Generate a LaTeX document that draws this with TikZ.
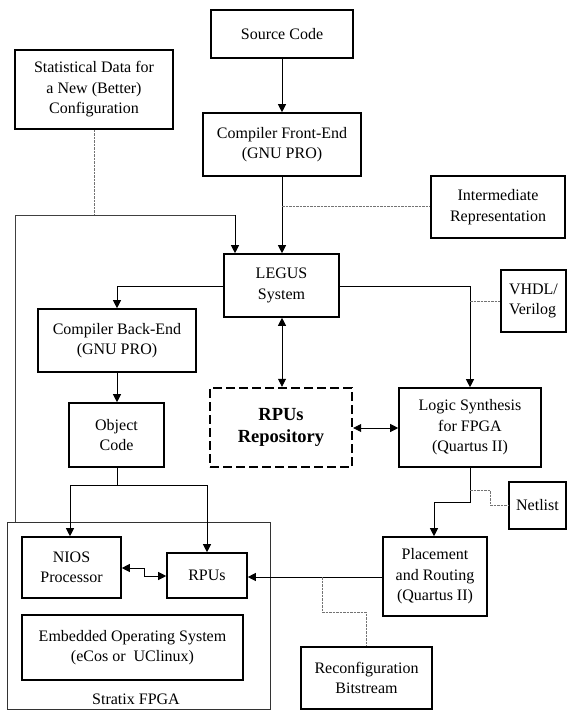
\documentclass[tikz,border=0pt]{standalone}
\usepackage{fontspec}
\setmainfont{Liberation Serif}
\usetikzlibrary{arrows.meta}
\begin{document}
\begin{tikzpicture}[x=1pt,y=-1pt,
  box/.style={draw=black,line width=1.6pt,fill=white,inner sep=0pt,align=center,
    font=\fontsize{16}{20.5}\selectfont},
  repobox/.style={draw=black,line width=2.4pt,dash pattern=on 9pt off 4pt,inner sep=0pt,align=center,
    font=\fontsize{18.5}{22.5}\selectfont\bfseries},
  arr/.style={line width=0.8pt,-{Triangle[width=8pt,length=8pt]}},
  darr/.style={line width=0.8pt,{Triangle[width=8pt,length=8pt]}-{Triangle[width=8pt,length=8pt]}},
  conn/.style={line width=0.8pt},
  thinline/.style={line width=0.7pt,draw=black!75},
  dotl/.style={line width=0.8pt,draw=black!55,dash pattern=on 2.5pt off 1pt},
]
\useasboundingbox[fill=white] (0,0) rectangle (569,711);

% Stratix container
\node[draw=black!80,line width=0.6pt,minimum width=263pt,minimum height=187pt,inner sep=0pt] (stratix) at (138.5,615.5) {};
\node[font=\fontsize{16}{18}\selectfont,inner sep=0pt] (stratixlbl) at (136,699) {Stratix FPGA};

\node[box,minimum width=142pt,minimum height=48pt] (src) at (282,34) {Source Code};
\node[box,minimum width=158pt,minimum height=79pt] (stat) at (94,89.5) {Statistical Data for\\a New (Better)\\Configuration};
\node[box,minimum width=158pt,minimum height=63pt] (front) at (282,144.5) {Compiler Front-End\\(GNU PRO)};
\node[box,minimum width=134pt,minimum height=62pt] (inter) at (498,207) {Intermediate\\Representation};
\node[box,minimum width=115pt,minimum height=63pt] (legus) at (281.5,285.5) {LEGUS\\System};
\node[box,minimum width=158pt,minimum height=63pt] (back) at (117,340.5) {Compiler Back-End\\(GNU PRO)};
\node[box,minimum width=65pt,minimum height=62pt,align=left] (vhdl) at (533.5,301) {VHDL/\\Verilog};
\node[box,minimum width=95pt,minimum height=64pt] (obj) at (116.5,435) {Object\\Code};
\node[repobox,minimum width=142pt,minimum height=79pt] (repo) at (281,427.5) {RPUs\\Repository};
\node[box,minimum width=142pt,minimum height=79pt] (logic) at (470,427.5) {Logic Synthesis\\for FPGA\\(Quartus II)};
\node[box,minimum width=57pt,minimum height=47pt] (netlist) at (537.5,505.5) {Netlist};
\node[box,minimum width=104pt,minimum height=79pt] (place) at (435,576.5) {Placement\\and Routing\\(Quartus II)};
\node[box,minimum width=131pt,minimum height=62pt] (recon) at (366.5,678) {Reconfiguration\\Bitstream};
\node[box,minimum width=99pt,minimum height=61pt] (nios) at (71.5,567.5) {NIOS\\Processor};
\node[box,minimum width=80pt,minimum height=45pt] (rpus) at (207,575.5) {RPUs};
\node[box,minimum width=221pt,minimum height=65pt] (os) at (132.5,647.5) {Embedded Operating System\\(eCos or\ \ UClinux)};

% coordinates
\coordinate (ir) at (282,206);
\coordinate (fb0) at (15,522);
\coordinate (fb1) at (15,215);
\coordinate (fb2) at (235,215);
\coordinate (fbs) at (94,215);
\coordinate (lg1) at (117,286);
\coordinate (lg2) at (470,286);
\coordinate (vh) at (470,301);
\coordinate (ls1) at (470,502);
\coordinate (ls2) at (434,502);
\coordinate (nl0) at (470,490);
\coordinate (nl1) at (490,490);
\coordinate (nl2) at (490,505);
\coordinate (pr0) at (322,577);
\coordinate (pr1) at (322,612);
\coordinate (pr2) at (366,612);
\coordinate (ob1) at (117,485);
\coordinate (ob2) at (70,485);
\coordinate (ob3) at (207,485);
\coordinate (nr1) at (144,568);
\coordinate (nr2) at (144,576);

% connectors
\draw[arr] (src) -- (front);
\draw[arr] (front) -- (legus.north -| front);
\draw[dotl] (ir) -- (inter.west |- ir);
\draw[dotl] (stat) -- (fbs);
\draw[thinline] (fb0) -- (fb1) -- (fb2);
\draw[arr] (fb2) -- (legus.north -| fb2);
\draw[arr] (legus.west |- lg1) -- (lg1) -- (back);
\draw[arr] (back) -- (obj.north -| back);
\draw[darr] (legus.south -| front) -- (repo.north -| front);
\draw[arr] (legus.east |- lg2) -- (lg2) -- (logic);
\draw[dotl] (vh) -- (vhdl.west |- vh);
\draw[darr] (repo.east |- 0,428) -- (logic.west |- 0,428);
\draw[arr] (logic) -- (ls1) -- (ls2) -- (place.north -| ls2);
\draw[dotl] (nl0) -- (nl1) -- (nl2) -- (netlist.west |- nl2);
\draw[arr] (place.west |- pr0) -- (rpus.east |- pr0);
\draw[dotl] (pr0) -- (pr1) -- (pr2) -- (recon.north -| pr2);
\draw[arr] (obj.south -| ob1) -- (ob1) -- (ob2) -- (nios.north -| ob2);
\draw[arr] (ob1) -- (ob3) -- (rpus);
\draw[darr] (nios.east |- nr1) -- (nr1) -- (nr2) -- (rpus.west |- nr2);
\end{tikzpicture}
\end{document}
